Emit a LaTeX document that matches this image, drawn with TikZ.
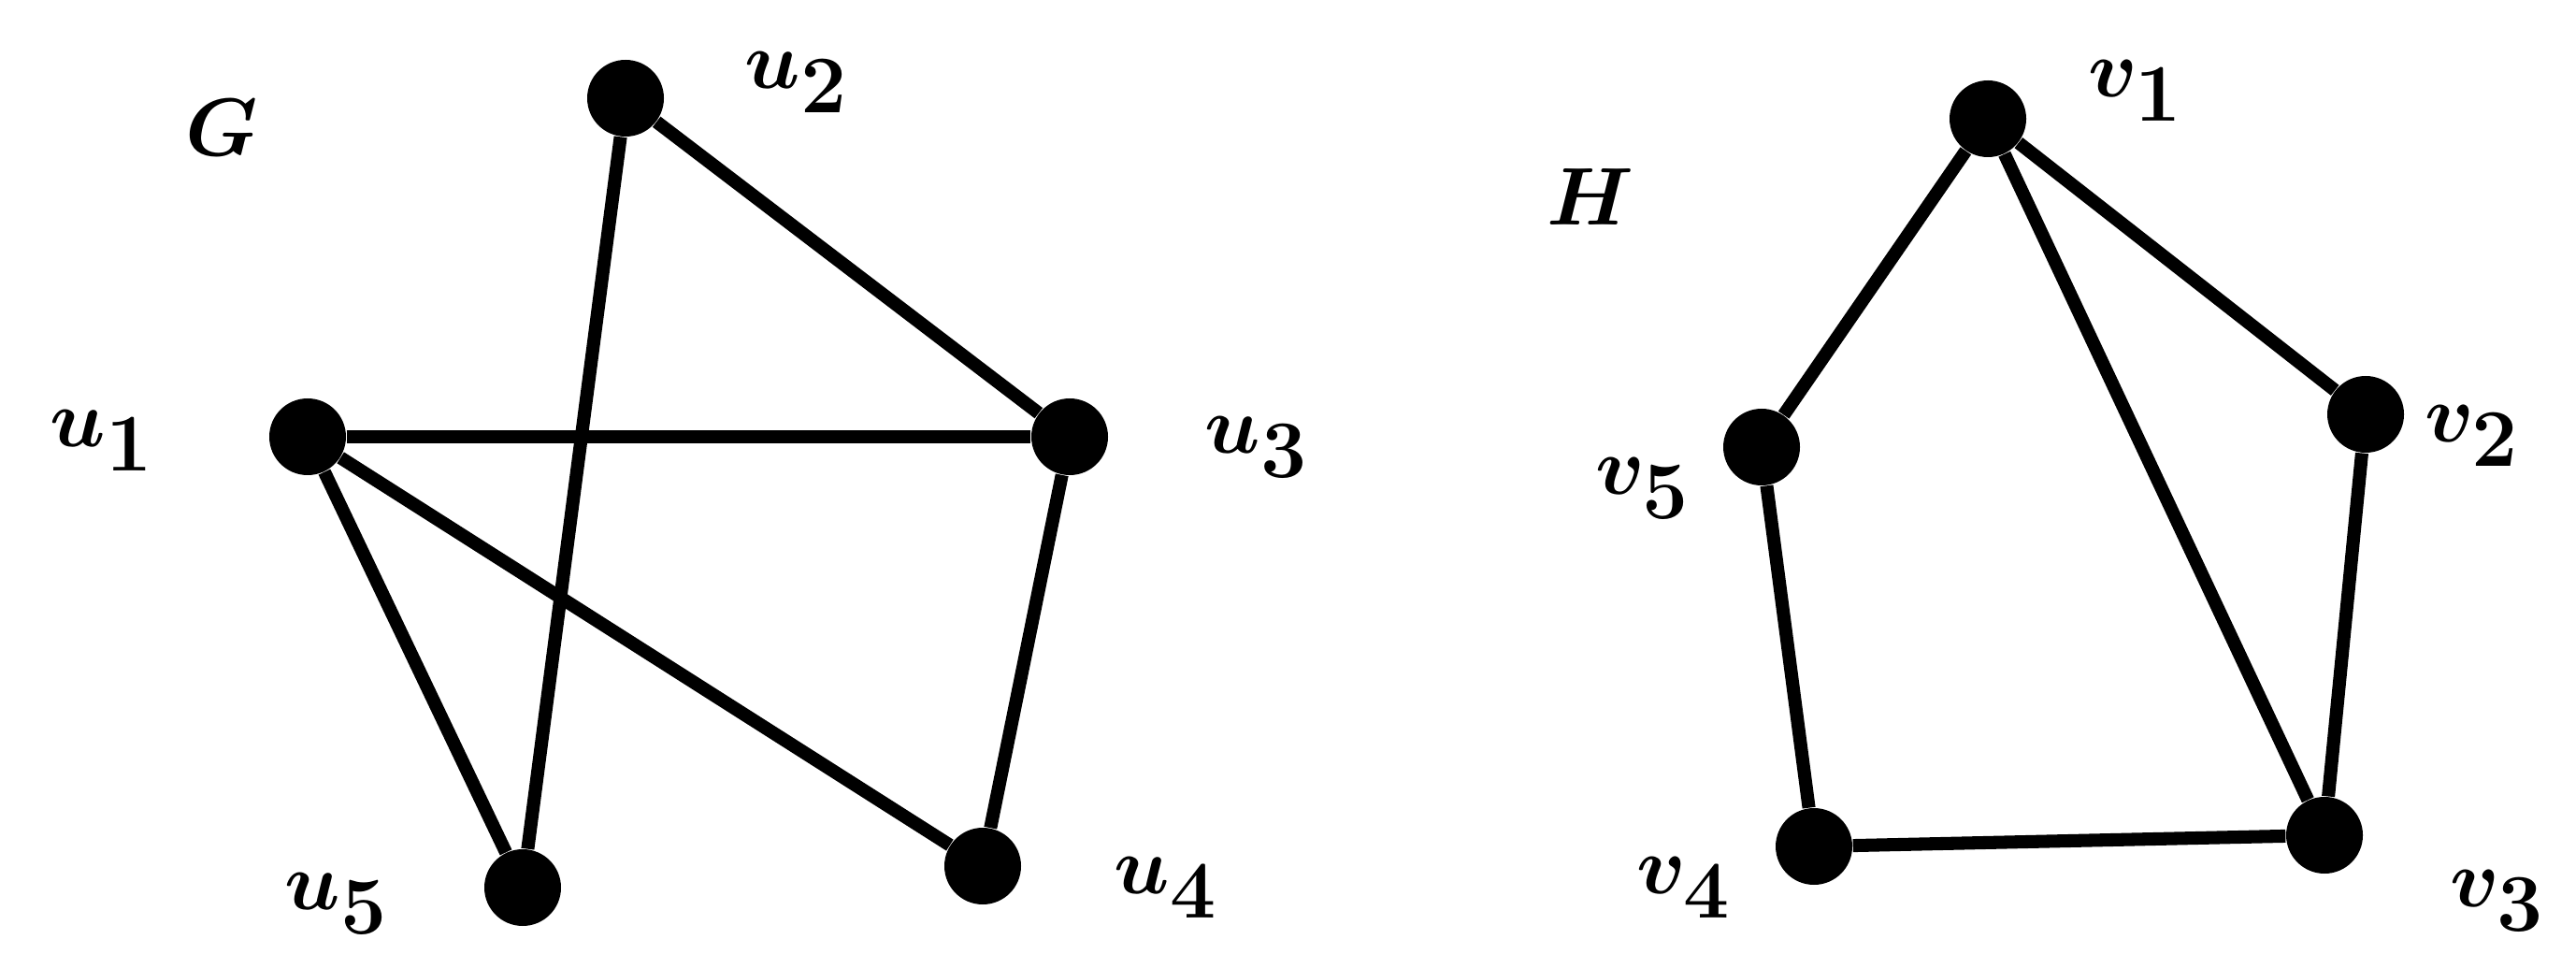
\documentclass[tikz,border=0pt]{standalone}
\usepackage{fontspec}
\usetikzlibrary{positioning}

\begin{document}
\begin{tikzpicture}[
vtx/.style={circle, fill=black, inner sep=0pt, minimum size=0.82cm},
lbl/.style={font=\fontsize{40}{44}\selectfont\boldmath},
edge/.style={line width=4pt}
]
\useasboundingbox (0,0) rectangle (27.55,-10.2);

% graph G
\node[lbl] (G) at (2.37,-1.37) {$G$};
\node[vtx] (u1) at (3.29,-4.67) {};
\node[vtx] (u2) at (6.69,-1.05) {};
\node[vtx] (u3) at (11.44,-4.67) {};
\node[vtx] (u4) at (10.51,-9.26) {};
\node[vtx] (u5) at (5.59,-9.49) {};

\node[lbl] (lu1) at (1.09,-4.71) {$u_1$};
\node[lbl] (lu2) at (8.52,-0.88) {$u_2$};
\node[lbl] (lu3) at (13.44,-4.78) {$u_3$};
\node[lbl] (lu4) at (12.47,-9.49) {$u_4$};
\node[lbl] (lu5) at (3.60,-9.66) {$u_5$};

\draw[edge] (u2) -- (u5);
\draw[edge] (u2) -- (u3);
\draw[edge] (u1) -- (u3);
\draw[edge] (u1) -- (u5);
\draw[edge] (u1) -- (u4);
\draw[edge] (u3) -- (u4);

% graph H
\node[lbl] (H) at (17.01,-2.11) {$H$};
\node[vtx] (v1) at (21.26,-1.27) {};
\node[vtx] (v2) at (25.30,-4.43) {};
\node[vtx] (v3) at (24.86,-8.93) {};
\node[vtx] (v4) at (19.40,-9.05) {};
\node[vtx] (v5) at (18.84,-4.78) {};

\node[lbl] (lv1) at (22.84,-0.97) {$v_1$};
\node[lbl] (lv2) at (26.44,-4.66) {$v_2$};
\node[lbl] (lv3) at (26.71,-9.63) {$v_3$};
\node[lbl] (lv4) at (18.01,-9.49) {$v_4$};
\node[lbl] (lv5) at (17.57,-5.22) {$v_5$};

\draw[edge] (v1) -- (v5);
\draw[edge] (v1) -- (v2);
\draw[edge] (v1) -- (v3);
\draw[edge] (v2) -- (v3);
\draw[edge] (v5) -- (v4);
\draw[edge] (v4) -- (v3);

\end{tikzpicture}
\end{document}
